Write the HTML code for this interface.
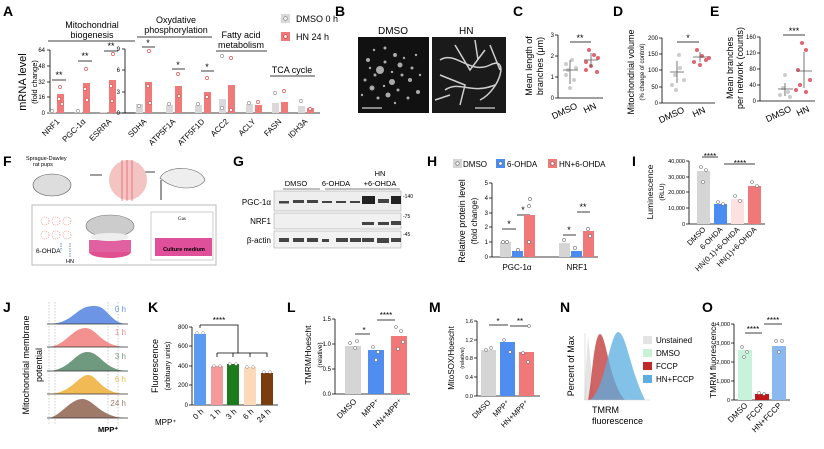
<!DOCTYPE html><html><head><meta charset="utf-8"><style>body{margin:0;background:#fff}svg{display:block;font-family:"Liberation Sans",sans-serif}</style></head><body>
<svg width="824" height="449" viewBox="0 0 824 449" xmlns="http://www.w3.org/2000/svg" font-size="8">
<g font-weight="bold" font-size="14">
<text x="3" y="16">A</text><text x="335" y="16">B</text><text x="513" y="16">C</text><text x="613" y="16">D</text><text x="710" y="16">E</text>
<text x="3" y="166">F</text><text x="233" y="166">G</text><text x="427" y="166">H</text><text x="632" y="166">I</text>
<text x="3" y="312">J</text><text x="148" y="312">K</text><text x="287" y="312">L</text><text x="429" y="312">M</text><text x="560" y="312">N</text><text x="702" y="312">O</text>
</g>
<!-- Panel A -->
<g stroke="#000" stroke-width="0.8" fill="none">
<path d="M50 50V113H135M47 50H50M47 66H50M47 82H50M47 97H50M47 113H50"/>
<path d="M125 49V113H320M122 49H125M122 70H125M122 92H125M122 113H125"/>
<path d="M48 41H135M137 37H212M216 51H267M270 76H315"/>
<path d="M52 80H66M78 61H92M104 51H118M142 47H155M172 69H185M201 71H214"/>
</g>
<g font-size="6" text-anchor="end"><text x="45" y="52">64</text><text x="45" y="68">48</text><text x="45" y="84">32</text><text x="45" y="99">16</text><text x="45" y="115">0</text>
<text x="120" y="51">9</text><text x="120" y="72">6</text><text x="120" y="94">3</text><text x="120" y="115">0</text></g>
<g font-size="9" text-anchor="middle"><text x="59" y="78">**</text><text x="85" y="59">**</text><text x="111" y="49">**</text><text x="148" y="46">*</text><text x="178" y="68">*</text><text x="207" y="70">*</text></g>
<g fill="#d9d9d9"><rect x="49" y="112" width="7" height="1"/><rect x="75" y="112" width="7" height="1"/><rect x="100" y="112" width="7" height="1"/><rect x="136" y="104" width="7" height="9"/><rect x="166" y="105" width="7" height="8"/><rect x="195" y="105" width="7" height="8"/><rect x="219" y="99" width="7" height="14"/><rect x="246" y="104" width="7" height="9"/><rect x="272" y="103" width="7" height="10"/><rect x="298" y="106" width="7" height="7"/></g>
<g fill="#f07a7a"><rect x="57" y="94" width="7" height="19"/><rect x="83" y="83" width="7" height="30"/><rect x="109" y="80" width="7" height="33"/><rect x="145" y="82" width="7" height="31"/><rect x="175" y="86" width="7" height="27"/><rect x="204" y="92" width="7" height="21"/><rect x="228" y="85" width="7" height="28"/><rect x="255" y="105" width="7" height="8"/><rect x="281" y="102" width="7" height="11"/><rect x="307" y="108" width="7" height="5"/></g>
<g fill="#fff" stroke="#e05555" stroke-width="0.7"><circle cx="60" cy="87" r="1.6"/><circle cx="59" cy="99" r="1.6"/><circle cx="62" cy="104" r="1.6"/><circle cx="86" cy="69" r="1.6"/><circle cx="85" cy="89" r="1.6"/><circle cx="87" cy="100" r="1.6"/><circle cx="113" cy="54" r="1.6"/><circle cx="111" cy="86" r="1.6"/><circle cx="112" cy="101" r="1.6"/><circle cx="149" cy="51" r="1.6"/><circle cx="148" cy="86" r="1.6"/><circle cx="150" cy="103" r="1.6"/><circle cx="178" cy="74" r="1.6"/><circle cx="179" cy="96" r="1.6"/><circle cx="207" cy="78" r="1.6"/><circle cx="207" cy="97" r="1.6"/><circle cx="231" cy="58" r="1.6"/><circle cx="231" cy="110" r="1.6"/><circle cx="258" cy="102" r="1.6"/><circle cx="284" cy="91" r="1.6"/><circle cx="310" cy="109" r="1.6"/></g>
<g fill="#fff" stroke="#999" stroke-width="0.7"><circle cx="139" cy="106" r="1.6"/><circle cx="169" cy="104" r="1.6"/><circle cx="198" cy="104" r="1.6"/><circle cx="222" cy="56" r="1.6"/><circle cx="222" cy="108" r="1.6"/><circle cx="249" cy="103" r="1.6"/><circle cx="275" cy="93" r="1.6"/><circle cx="301" cy="101" r="1.6"/><circle cx="52" cy="111" r="1.6"/><circle cx="78" cy="111" r="1.6"/></g>
<g font-size="9" text-anchor="middle"><text x="92" y="28">Mitochondrial</text><text x="92" y="38">biogenesis</text><text x="176" y="23">Oxydative</text><text x="176" y="33">phosphorylation</text><text x="241" y="38">Fatty acid</text><text x="241" y="48">metabolism</text><text x="292" y="73">TCA cycle</text></g>
<text transform="translate(26,82) rotate(-90)" text-anchor="middle" font-size="11">mRNA level</text>
<text transform="translate(37,82) rotate(-90)" text-anchor="middle" font-size="7.5">(fold change)</text>
<g font-size="8" text-anchor="end">
<text transform="translate(60,122) rotate(-45)">NRF1</text><text transform="translate(86,122) rotate(-45)">PGC-1α</text><text transform="translate(112,122) rotate(-45)">ESRRA</text><text transform="translate(147,122) rotate(-45)">SDHA</text><text transform="translate(176,122) rotate(-45)">ATP5F1A</text><text transform="translate(205,122) rotate(-45)">ATF5F1D</text><text transform="translate(229,122) rotate(-45)">ACC2</text><text transform="translate(256,122) rotate(-45)">ACLY</text><text transform="translate(282,122) rotate(-45)">FASN</text><text transform="translate(308,122) rotate(-45)">IDH3A</text></g>
<rect x="281" y="14" width="9" height="9" fill="#d9d9d9"/><circle cx="285.5" cy="18.5" r="1.8" fill="#fff" stroke="#777" stroke-width="0.7"/>
<rect x="281" y="32" width="9" height="9" fill="#f07a7a"/><circle cx="285.5" cy="36.5" r="1.8" fill="#fff" stroke="#c33" stroke-width="0.7"/>
<text x="296" y="22" font-size="9">DMSO 0 h</text><text x="296" y="40" font-size="9">HN 24 h</text>
<!-- Panel B -->
<text x="378" y="34" font-size="10">DMSO</text><text x="459" y="34" font-size="10">HN</text>
<rect x="358" y="37" width="71" height="76" fill="#111"/><rect x="432" y="37" width="74" height="76" fill="#1a1a1a"/>
<g fill="#ddd" opacity="0.75"><circle cx="380" cy="70" r="4"/><circle cx="392" cy="82" r="3"/><circle cx="372" cy="88" r="2.5"/><circle cx="400" cy="65" r="2.5"/><circle cx="388" cy="95" r="2.5"/><circle cx="410" cy="80" r="2"/><circle cx="368" cy="60" r="2"/><circle cx="418" cy="92" r="2"/><circle cx="395" cy="55" r="2"/>
<circle cx="375" cy="75" r="1.5"/><circle cx="385" cy="62" r="1.5"/><circle cx="402" cy="75" r="1.5"/><circle cx="365" cy="80" r="1.5"/><circle cx="378" cy="98" r="1.5"/><circle cx="398" cy="90" r="1.5"/><circle cx="408" cy="98" r="1.5"/><circle cx="412" cy="68" r="1.5"/><circle cx="385" cy="48" r="1.5"/><circle cx="370" cy="68" r="1.2"/><circle cx="392" cy="72" r="1.2"/><circle cx="384" cy="86" r="1.2"/><circle cx="404" cy="58" r="1.2"/><circle cx="416" cy="55" r="1.2"/><circle cx="362" cy="95" r="1.2"/><circle cx="395" cy="103" r="1.2"/><circle cx="420" cy="75" r="1.2"/><circle cx="374" cy="50" r="1.2"/></g>
<g stroke="#eee" stroke-width="1.5" fill="none" opacity="0.85"><path d="M440 60C455 50 470 75 490 65S500 90 480 100M445 90C460 80 470 95 495 85M455 45L470 70L485 50M440 75L465 85L460 105M475 40L478 60M490 45L500 70M435 100L450 95"/></g>
<path d="M362 108H382M475 108H495" stroke="#fff" stroke-width="1"/>
<!-- C D E -->
<g stroke="#000" stroke-width="0.8" fill="none"><path d="M558 35V98H603M555 35H558M555 56H558M555 77H558M555 98H558"/>
<path d="M662 38V103H715M659 38H662M659 54H662M659 70H662M659 87H662M659 103H662"/>
<path d="M760 37V101H815M757 37H760M757 53H760M757 69H760M757 85H760M757 101H760"/>
<path d="M570 42H591M677 42H699M783 35H805"/></g>
<g font-size="6" text-anchor="end"><text x="554" y="37">3</text><text x="554" y="58">2</text><text x="554" y="79">1</text><text x="554" y="100">0</text>
<text x="658" y="40">200</text><text x="658" y="56">150</text><text x="658" y="72">100</text><text x="658" y="89">50</text><text x="658" y="105">0</text>
<text x="756" y="39">160</text><text x="756" y="55">120</text><text x="756" y="71">80</text><text x="756" y="87">40</text><text x="756" y="103">0</text></g>
<g font-size="9" text-anchor="middle"><text x="580" y="41">**</text><text x="688" y="41">*</text><text x="794" y="34">***</text></g>
<g fill="#ccc"><circle cx="568" cy="70" r="2"/><circle cx="572" cy="60" r="2"/><circle cx="566" cy="75" r="2"/><circle cx="574" cy="80" r="2"/><circle cx="570" cy="88" r="2"/><circle cx="576" cy="68" r="2"/><circle cx="566" cy="64" r="2"/>
<circle cx="675" cy="75" r="2"/><circle cx="680" cy="68" r="2"/><circle cx="672" cy="85" r="2"/><circle cx="684" cy="80" r="2"/><circle cx="676" cy="90" r="2"/><circle cx="679" cy="55" r="2"/>
<circle cx="783" cy="88" r="2"/><circle cx="788" cy="92" r="2"/><circle cx="780" cy="95" r="2"/><circle cx="785" cy="75" r="2"/><circle cx="790" cy="97" r="2"/></g>
<g fill="#e06570"><circle cx="589" cy="50" r="2"/><circle cx="594" cy="55" r="2"/><circle cx="586" cy="62" r="2"/><circle cx="598" cy="58" r="2"/><circle cx="591" cy="66" r="2"/><circle cx="586" cy="70" r="2"/><circle cx="597" cy="72" r="2"/>
<circle cx="697" cy="50" r="2"/><circle cx="702" cy="56" r="2"/><circle cx="694" cy="62" r="2"/><circle cx="706" cy="60" r="2"/><circle cx="700" cy="65" r="2"/><circle cx="709" cy="58" r="2"/>
<circle cx="802" cy="43" r="2"/><circle cx="806" cy="50" r="2"/><circle cx="798" cy="70" r="2"/><circle cx="810" cy="80" r="2"/><circle cx="800" cy="85" r="2"/><circle cx="806" cy="92" r="2"/><circle cx="796" cy="90" r="2"/></g>
<g stroke="#555" stroke-width="0.8"><path d="M563 70H578M570 60V84M584 60H598M591 53V67M670 72H684M677 61V83M693 57H708M700 52V62M778 89H793M785 83V96M797 71H812M804 52V88"/></g>
<g font-size="9" text-anchor="end"><text transform="translate(578,108) rotate(-25)">DMSO</text><text transform="translate(597,108) rotate(-25)">HN</text>
<text transform="translate(685,112) rotate(-25)">DMSO</text><text transform="translate(706,112) rotate(-25)">HN</text>
<text transform="translate(792,111) rotate(-25)">DMSO</text><text transform="translate(810,111) rotate(-25)">HN</text></g>
<g font-size="9" text-anchor="middle"><text transform="translate(532,66) rotate(-90)">Mean length of</text><text transform="translate(543,66) rotate(-90)">branches (μm)</text>
<text transform="translate(634,72) rotate(-90)">Mitochondrial volume</text><text transform="translate(644,72) rotate(-90)" font-size="6">(% change of control)</text>
<text transform="translate(733,68) rotate(-90)">Mean branches</text><text transform="translate(743,68) rotate(-90)">per network (counts)</text></g>
<!-- F -->
<text x="26" y="160" font-size="5.5">Sprague-Dawley</text><text x="33" y="166" font-size="5.5">rat pups</text>
<ellipse cx="52" cy="185" rx="19" ry="11" fill="#ddd" stroke="#555" stroke-width="0.6"/>
<path d="M90 175H102M142 172H155M161 180V200" stroke="#000" stroke-width="0.8"/>
<ellipse cx="128" cy="180" rx="19" ry="20" fill="#f4c4c4"/><path d="M122 160V201M127 160V201M132 160V201" stroke="#d44" stroke-width="0.6"/>
<path d="M160 178C165 165 200 165 205 180C200 190 175 192 160 178Z" fill="#eee" stroke="#666" stroke-width="0.6"/>
<rect x="32" y="205" width="184" height="60" fill="#fff" stroke="#bbb"/>
<g fill="none" stroke="#d77" stroke-width="0.6" stroke-dasharray="1 1"><circle cx="45" cy="221" r="4"/><circle cx="56" cy="221" r="4"/><circle cx="67" cy="221" r="4"/><circle cx="45" cy="235" r="4"/><circle cx="56" cy="235" r="4"/><circle cx="67" cy="235" r="4"/></g>
<text x="36" y="253" font-size="6.5">6-OHDA</text><text x="66" y="263" font-size="5.5">HN</text>
<path d="M61 243V251M70 243V257" stroke="#36c" stroke-width="0.8" stroke-dasharray="1.5 1"/>
<ellipse cx="110" cy="252" rx="21" ry="6" fill="#e0508f"/><rect x="89" y="240" width="42" height="12" fill="#e060a0"/><ellipse cx="110" cy="226" rx="24" ry="11" fill="#ccc" stroke="#777" stroke-width="0.6"/><ellipse cx="110" cy="237" rx="19" ry="4" fill="#eee"/>
<rect x="151" y="212" width="62" height="48" fill="#fff" stroke="#aaa" stroke-width="0.6"/><text x="178" y="220" font-size="5" font-family="Liberation Serif">Gas</text>
<rect x="155" y="238" width="57" height="18" fill="#e0509a"/><text x="184" y="251" font-size="5.5" text-anchor="middle" font-weight="bold">Culture medium</text>
<!-- G -->
<g font-size="7.5" text-anchor="middle"><text x="296" y="186">DMSO</text><text x="336" y="186">6-OHDA</text><text x="380" y="176">HN</text><text x="380" y="186">+6-OHDA</text></g>
<path d="M283 189H320M325 189H362M362 189H400" stroke="#000" stroke-width="0.6"/>
<rect x="274" y="191" width="127" height="20" fill="#eee" stroke="#999" stroke-width="0.5"/><rect x="274" y="213" width="127" height="16" fill="#f0f0f0" stroke="#999" stroke-width="0.5"/><rect x="274" y="231" width="127" height="17" fill="#f2f2f2" stroke="#999" stroke-width="0.5"/>
<g fill="#444"><rect x="279" y="201" width="10" height="2.5"/><rect x="293" y="200" width="11" height="3"/><rect x="307" y="200" width="11" height="3"/><rect x="322" y="201" width="10" height="2"/><rect x="336" y="201" width="10" height="2"/><rect x="350" y="201" width="10" height="2"/>
<rect x="362" y="196" width="13" height="8" fill="#222"/><rect x="378" y="199" width="11" height="4"/><rect x="391" y="196" width="10" height="8" fill="#222"/>
<rect x="362" y="222" width="12" height="3"/><rect x="378" y="222" width="11" height="3"/><rect x="391" y="221" width="10" height="4"/>
<rect x="279" y="238" width="10" height="4"/><rect x="293" y="238" width="11" height="4"/><rect x="307" y="238" width="11" height="4"/><rect x="322" y="239" width="7" height="3"/><rect x="336" y="238" width="12" height="4"/><rect x="350" y="238" width="11" height="4"/><rect x="362" y="238" width="12" height="4"/><rect x="377" y="238" width="12" height="5"/><rect x="391" y="238" width="10" height="4"/></g>
<g font-size="8" text-anchor="end"><text x="271" y="205">PGC-1α</text><text x="271" y="224">NRF1</text><text x="271" y="243">β-actin</text></g>
<g font-size="5"><text x="403" y="198">-140</text><text x="403" y="218">-75</text><text x="403" y="236">-45</text></g>
<!-- H -->
<rect x="453" y="159" width="9" height="9" fill="#d5d5d5"/><rect x="496" y="159" width="9" height="9" fill="#4a8cf0"/><rect x="548" y="159" width="9" height="9" fill="#f07878"/>
<g fill="#fff" stroke="#666" stroke-width="0.6"><circle cx="457.5" cy="163.5" r="1.7"/><circle cx="500.5" cy="163.5" r="1.7"/><circle cx="552.5" cy="163.5" r="1.7"/></g>
<g font-size="8"><text x="463" y="167">DMSO</text><text x="507" y="167">6-OHDA</text><text x="559" y="167">HN+6-OHDA</text></g>
<g stroke="#000" stroke-width="0.8" fill="none"><path d="M492 183V257H598M489 183H492M489 198H492M489 213H492M489 227H492M489 242H492M489 257H492M502 229H516M517 215H530M563 235H576M577 212H590"/></g>
<g font-size="6" text-anchor="end"><text x="488" y="185">5</text><text x="488" y="200">4</text><text x="488" y="215">3</text><text x="488" y="229">2</text><text x="488" y="244">1</text><text x="488" y="259">0</text></g>
<g font-size="9" text-anchor="middle"><text x="509" y="227">*</text><text x="523" y="213">*</text><text x="569" y="233">*</text><text x="583" y="210">**</text></g>
<rect x="500" y="242" width="11" height="15" fill="#d5d5d5"/><rect x="512" y="251" width="11" height="6" fill="#4a8cf0"/><rect x="524" y="215" width="11" height="42" fill="#f07878"/>
<rect x="559" y="243" width="11" height="14" fill="#d5d5d5"/><rect x="571" y="251" width="11" height="6" fill="#4a8cf0"/><rect x="583" y="231" width="11" height="26" fill="#f07878"/>
<g fill="#fff" stroke="#666" stroke-width="0.6"><circle cx="503" cy="242" r="1.6"/><circle cx="507" cy="242" r="1.6"/><circle cx="518" cy="250" r="1.6"/><circle cx="530" cy="199" r="1.6"/><circle cx="529" cy="206" r="1.6"/><circle cx="529" cy="242" r="1.6"/><circle cx="564" cy="240" r="1.6"/><circle cx="575" cy="248" r="1.6"/><circle cx="588" cy="229" r="1.6"/><circle cx="590" cy="236" r="1.6"/></g>
<g font-size="8" text-anchor="middle"><text x="517" y="270">PGC-1α</text><text x="577" y="270">NRF1</text>
<text transform="translate(465,221) rotate(-90)" font-size="9">Relative protein level</text><text transform="translate(477,221) rotate(-90)">(fold change)</text></g>
<!-- I -->
<g stroke="#000" stroke-width="0.8" fill="none"><path d="M689 161V224H765M686 161H689M686 177H689M686 192H689M686 208H689M686 224H689M702 157H718M724 164H755"/></g>
<g font-size="5.5" text-anchor="end"><text x="685" y="163">40,000</text><text x="685" y="179">30,000</text><text x="685" y="194">20,000</text><text x="685" y="210">10,000</text><text x="685" y="226">0</text></g>
<g font-size="8" text-anchor="middle"><text x="710" y="159">****</text><text x="740" y="166">****</text></g>
<rect x="697" y="171" width="13" height="53" fill="#d5d5d5"/><rect x="714" y="204" width="13" height="20" fill="#4a8cf0"/><rect x="731" y="199" width="13" height="25" fill="#fde0e0"/><rect x="748" y="186" width="13" height="38" fill="#f07878"/>
<g fill="#fff" stroke="#777" stroke-width="0.6"><circle cx="701" cy="167" r="1.5"/><circle cx="706" cy="170" r="1.5"/><circle cx="703" cy="182" r="1.5"/><circle cx="718" cy="202" r="1.5"/><circle cx="723" cy="204" r="1.5"/><circle cx="735" cy="196" r="1.5"/><circle cx="740" cy="201" r="1.5"/><circle cx="752" cy="182" r="1.5"/><circle cx="757" cy="186" r="1.5"/></g>
<text transform="translate(653,192) rotate(-90)" font-size="8.5" text-anchor="middle">Luminescence</text><text transform="translate(664,192) rotate(-90)" font-size="6.5" text-anchor="middle">(RLU)</text>
<g font-size="7.5" text-anchor="end"><text transform="translate(706,230) rotate(-45)">DMSO</text><text transform="translate(723,230) rotate(-45)">6-OHDA</text><text transform="translate(740,230) rotate(-45)">HN(0.1)+6-OHDA</text><text transform="translate(757,230) rotate(-45)">HN(1)+6-OHDA</text></g>
<!-- J -->
<g stroke="#999" stroke-width="0.5" stroke-dasharray="1.5 1.5"><path d="M49 302V425M55 302V425M108 302V425M118 302V425"/></g>
<path d="M47 324C75 324 75 305 95 306C108 306 110 324 128 324Z" fill="#6d95e6"/>
<path d="M47 347C65 347 72 328 85 328C98 328 100 347 128 347Z" fill="#f39090"/>
<path d="M47 371C70 371 75 351 88 352C100 352 105 371 128 371Z" fill="#6f9a80"/>
<path d="M47 394C72 394 78 375 88 375C98 375 100 394 128 394Z" fill="#f2ba55"/>
<path d="M47 418C60 418 70 398 83 399C95 400 100 418 128 418Z" fill="#a07a68"/>
<g stroke="#333" stroke-width="0.8"><path d="M47 324H128M47 347H128M47 371H128M47 394H128M47 418H128"/></g>
<g font-size="8" text-anchor="end"><text x="126" y="312" fill="#6d95e6">0 h</text><text x="126" y="335" fill="#f39090">1 h</text><text x="126" y="359" fill="#6f9a80">3 h</text><text x="126" y="382" fill="#f2ba55">6 h</text><text x="126" y="406" fill="#a07a68">24 h</text></g>
<text x="98" y="432" font-size="7.5" font-weight="bold">MPP⁺</text>
<text transform="translate(29,365) rotate(-90)" font-size="9" text-anchor="middle">Mitochondrial membrane</text><text transform="translate(42,365) rotate(-90)" font-size="9" text-anchor="middle">potential</text>
<!-- K -->
<g stroke="#000" stroke-width="0.8" fill="none"><path d="M192 327V405H278M189 327H192M189 346H192M189 366H192M189 385H192M189 405H192M200 325V328M200 325H238V353M217 353H267V357M217 353V357M233 353V357M250 353V357"/></g>
<g font-size="6" text-anchor="end"><text x="188" y="329">800</text><text x="188" y="348">600</text><text x="188" y="368">400</text><text x="188" y="387">200</text><text x="188" y="407">0</text></g>
<text x="219" y="323" font-size="8" text-anchor="middle">****</text>
<rect x="194" y="334" width="12" height="71" fill="#5b9cf0"/><rect x="211" y="366" width="12" height="39" fill="#f59a9a"/><rect x="227" y="364" width="12" height="41" fill="#1d7a1d"/><rect x="244" y="367" width="12" height="38" fill="#fbd9b9"/><rect x="261" y="373" width="12" height="32" fill="#7a3d0e"/>
<g fill="#fff" stroke="#888" stroke-width="0.5"><circle cx="197" cy="333" r="1.4"/><circle cx="203" cy="333" r="1.4"/><circle cx="214" cy="366" r="1.4"/><circle cx="220" cy="366" r="1.4"/><circle cx="230" cy="364" r="1.4"/><circle cx="236" cy="364" r="1.4"/><circle cx="247" cy="367" r="1.4"/><circle cx="253" cy="367" r="1.4"/><circle cx="264" cy="372" r="1.4"/><circle cx="270" cy="372" r="1.4"/></g>
<text x="155" y="425" font-size="8">MPP⁺</text>
<g font-size="8" text-anchor="end"><text transform="translate(204,412) rotate(-45)">0 h</text><text transform="translate(221,412) rotate(-45)">1 h</text><text transform="translate(237,412) rotate(-45)">3 h</text><text transform="translate(254,412) rotate(-45)">6 h</text><text transform="translate(271,412) rotate(-45)">24 h</text></g>
<text transform="translate(158,366) rotate(-90)" font-size="9" text-anchor="middle">Fluorescence</text><text transform="translate(170,366) rotate(-90)" font-size="7" text-anchor="middle">(arbituary units)</text>
<!-- L -->
<g stroke="#000" stroke-width="0.8" fill="none"><path d="M335 319V394H410M332 319H335M332 344H335M332 369H335M332 394H335M355 334H370M377 320H395"/></g>
<g font-size="6" text-anchor="end"><text x="331" y="321">1.5</text><text x="331" y="346">1.0</text><text x="331" y="371">0.5</text><text x="331" y="396">0.0</text></g>
<g font-size="8" text-anchor="middle"><text x="364" y="333">*</text><text x="386" y="318">****</text></g>
<rect x="345" y="346" width="16" height="48" fill="#d5d5d5"/><rect x="368" y="350" width="16" height="44" fill="#4f8ef0"/><rect x="391" y="336" width="16" height="58" fill="#f07878"/>
<g fill="#fff" stroke="#777" stroke-width="0.6"><circle cx="350" cy="343" r="1.5"/><circle cx="355" cy="348" r="1.5"/><circle cx="357" cy="341" r="1.5"/><circle cx="373" cy="347" r="1.5"/><circle cx="378" cy="352" r="1.5"/><circle cx="376" cy="360" r="1.5"/><circle cx="396" cy="327" r="1.5"/><circle cx="401" cy="331" r="1.5"/><circle cx="398" cy="349" r="1.5"/><circle cx="403" cy="342" r="1.5"/></g>
<text transform="translate(311,355) rotate(-90)" font-size="8.5" text-anchor="middle">TMRM/Hoescht</text><text transform="translate(322,355) rotate(-90)" font-size="6.5" text-anchor="middle">(relative)</text>
<g font-size="8" text-anchor="end"><text transform="translate(357,402) rotate(-45)">DMSO</text><text transform="translate(380,402) rotate(-45)">MPP⁺</text><text transform="translate(403,402) rotate(-45)">HN+MPP⁺</text></g>
<!-- M -->
<g stroke="#000" stroke-width="0.8" fill="none"><path d="M477 321V396H540M474 321H477M474 340H477M474 358H477M474 377H477M474 396H477M489 325H508M510 326H530"/></g>
<g font-size="5.5" text-anchor="end"><text x="473" y="323">1.6</text><text x="473" y="342">1.2</text><text x="473" y="360">0.8</text><text x="473" y="379">0.4</text><text x="473" y="398">0.0</text></g>
<g font-size="8" text-anchor="middle"><text x="498" y="324">*</text><text x="520" y="324">**</text></g>
<rect x="481" y="350" width="15" height="46" fill="#d5d5d5"/><rect x="500" y="342" width="15" height="54" fill="#4f8ef0"/><rect x="519" y="352" width="15" height="44" fill="#f07878"/>
<g fill="#fff" stroke="#777" stroke-width="0.6"><circle cx="486" cy="350" r="1.4"/><circle cx="491" cy="348" r="1.4"/><circle cx="504" cy="340" r="1.4"/><circle cx="510" cy="352" r="1.4"/><circle cx="529" cy="326" r="1.4"/><circle cx="523" cy="353" r="1.4"/><circle cx="528" cy="362" r="1.4"/></g>
<text transform="translate(454,358) rotate(-90)" font-size="8" text-anchor="middle">MitoSOX/Hoescht</text><text transform="translate(464,358) rotate(-90)" font-size="5.5" text-anchor="middle">(relative)</text>
<g font-size="7.5" text-anchor="end"><text transform="translate(491,403) rotate(-45)">DMSO</text><text transform="translate(510,403) rotate(-45)">MPP⁺</text><text transform="translate(529,403) rotate(-45)">HN+MPP⁺</text></g>
<!-- N -->
<path d="M584 400L588 335L594 400Z" fill="#e4e4e4"/>
<path d="M588 400C592 380 594 335 600 334C606 334 610 385 625 400Z" fill="#c84a4a" opacity="0.85"/>
<path d="M590 400C605 390 610 333 618 332C626 332 630 370 645 400Z" fill="#5aaee0" opacity="0.75"/>
<path d="M585 333V400H650" stroke="#ccc" stroke-width="0.6" fill="none"/>
<text transform="translate(574,366) rotate(-90)" font-size="9" text-anchor="middle">Percent of Max</text>
<text x="592" y="413" font-size="9">TMRM</text><text x="592" y="424" font-size="9">fluorescence</text>
<rect x="643" y="336" width="9" height="8" fill="#e4e4e4"/><rect x="643" y="349" width="9" height="8" fill="#c8f2d6"/><rect x="643" y="362" width="9" height="8" fill="#c0282a"/><rect x="643" y="375" width="9" height="8" fill="#5aaee0"/>
<g font-size="8"><text x="656" y="343">Unstained</text><text x="656" y="356">DMSO</text><text x="656" y="369">FCCP</text><text x="656" y="382">HN+FCCP</text></g>
<!-- O -->
<g stroke="#000" stroke-width="0.8" fill="none"><path d="M734 324V400H790M731 324H734M731 343H734M731 362H734M731 381H734M731 400H734M745 333H762M764 324H782"/></g>
<g font-size="5.5" text-anchor="end"><text x="730" y="326">4,000</text><text x="730" y="345">3,000</text><text x="730" y="364">2,000</text><text x="730" y="383">1,000</text><text x="730" y="402">0</text></g>
<g font-size="8" text-anchor="middle"><text x="753" y="332">****</text><text x="773" y="323">****</text></g>
<rect x="738" y="350" width="14" height="50" fill="#c8f2dc"/><rect x="755" y="394" width="14" height="6" fill="#c0181a"/><rect x="772" y="346" width="14" height="54" fill="#8cb8f0"/>
<g fill="#fff" stroke="#777" stroke-width="0.6"><circle cx="742" cy="347" r="1.4"/><circle cx="747" cy="352" r="1.4"/><circle cx="744" cy="357" r="1.4"/><circle cx="759" cy="393" r="1.4"/><circle cx="764" cy="394" r="1.4"/><circle cx="776" cy="341" r="1.4"/><circle cx="782" cy="341" r="1.4"/><circle cx="779" cy="352" r="1.4"/></g>
<text transform="translate(716,360) rotate(-90)" font-size="8.5" text-anchor="middle">TMRM fluorescence</text>
<g font-size="8" text-anchor="end"><text transform="translate(748,406) rotate(-45)">DMSO</text><text transform="translate(765,406) rotate(-45)">FCCP</text><text transform="translate(782,406) rotate(-45)">HN+FCCP</text></g>
</svg>
</body></html>
